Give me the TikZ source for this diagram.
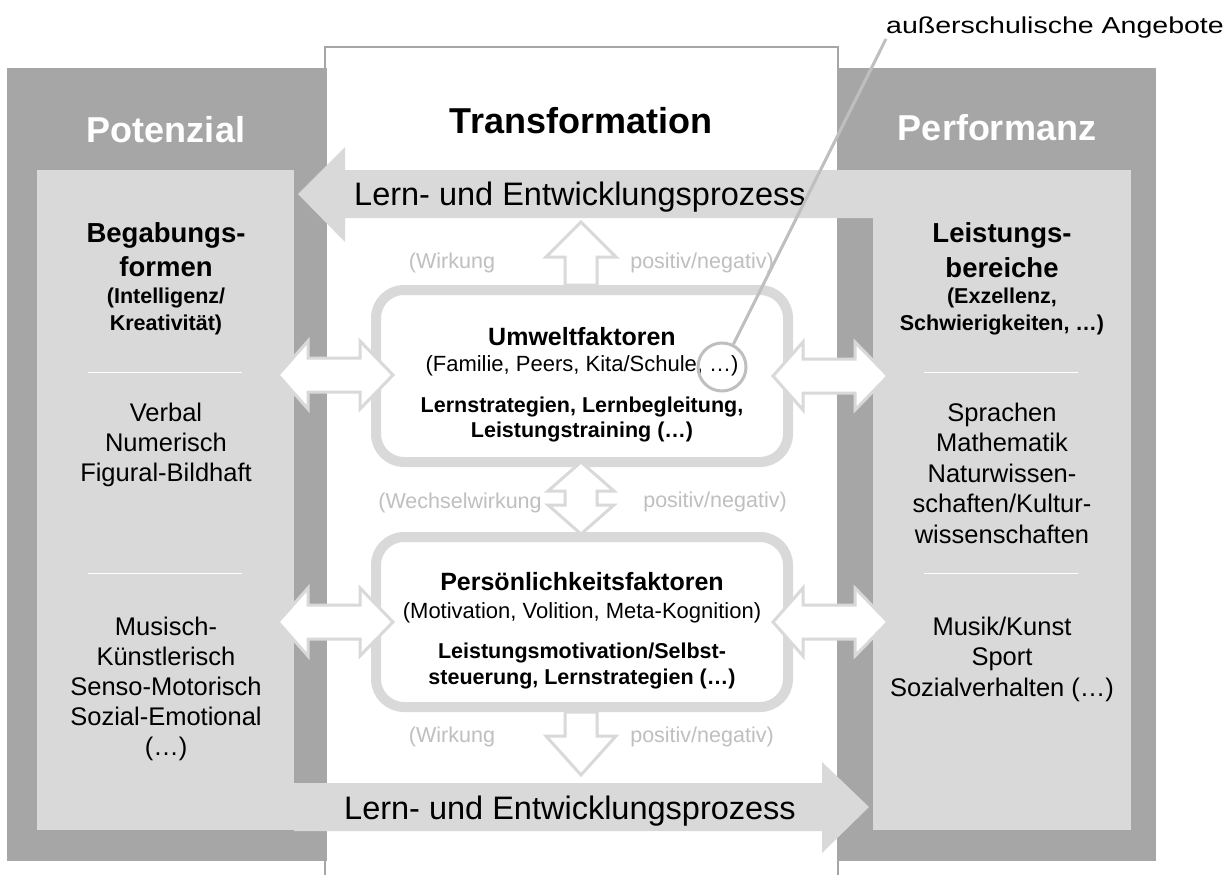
\documentclass[tikz,border=0pt]{standalone}
\usepackage{fontspec}
\setmainfont{Liberation Sans}
\newfontfamily\stretchedfont[FakeStretch=1.24]{Liberation Sans}
\definecolor{framegray}{HTML}{A6A6A6}
\definecolor{panelgray}{HTML}{D9D9D9}
\definecolor{notegray}{HTML}{BFBFBF}

\begin{document}
\begin{tikzpicture}[x=1pt, y=-1pt,
        txt/.style={inner sep=0pt, anchor=base},
        headtxt/.style={txt, font=\bfseries\fontsize{36}{40}\selectfont},
        subtxt/.style={txt, font=\bfseries\fontsize{27.5}{30}\selectfont},
        smalltxt/.style={txt, font=\bfseries\fontsize{21.5}{24}\selectfont},
        itemtxt/.style={txt, font=\fontsize{25.5}{28}\selectfont},
        titletxt/.style={txt, font=\bfseries\fontsize{25}{28}\selectfont},
        plaintxt/.style={txt, font=\fontsize{22}{24}\selectfont},
        effecttxt/.style={txt, text=notegray, font=\fontsize{21.5}{24}\selectfont},
        hollow/.style={draw=panelgray, line width=3pt, fill=white},
        factor/.style={draw=panelgray, line width=10pt, fill=white, rounded corners=28pt, minimum width=412pt}]
        \useasboundingbox (0,0) rectangle (1232,875);

        % frames
        \draw[framegray, line width=2pt, fill=white] (325,880) -- (325,47) -- (838,47) -- (838,880);
        \fill[framegray] (7,68) rectangle (327,861);
        \fill[framegray] (837,68) rectangle (1156,861);
        \fill[panelgray] (37,170) rectangle (294,830);
        \fill[panelgray] (873,170) rectangle (1131,830);

        % process arrows
        \fill[panelgray] (873,170) -- (345,170) -- (345,147) -- (298,194) -- (345,242) -- (345,218) -- (873,218) -- cycle;
        \fill[panelgray] (294,783) -- (822,783) -- (822,762) -- (869,807) -- (822,853) -- (822,831) -- (294,831) -- cycle;

        \node (umwelt) at (582,376) [factor, minimum height=172pt] {};
        \node (person) at (582,622) [factor, minimum height=170pt] {};

        \foreach \x/\y in {278/375, 278/622, 773/376, 773/622}
                \draw[hollow, shift={(\x,\y)}] (0,0) -- (30,-34) -- (30,-17) -- (82,-17) -- (82,-34) -- (115,0)
                        -- (82,34) -- (82,17) -- (30,17) -- (30,34) -- cycle;
        \draw[hollow] (581,222) -- (616,257) -- (597,257) -- (597,285) -- (565,285) -- (565,257) -- (546,257) -- cycle;
        \draw[hollow] (581,462) -- (614,491) -- (597,491) -- (597,505) -- (614,505) -- (581,534)
                -- (548,505) -- (565,505) -- (565,491) -- (548,491) -- cycle;
        \draw[hollow] (565,712) -- (597,712) -- (597,736) -- (616,736) -- (581,775) -- (546,736) -- (565,736) -- cycle;

        \foreach \y in {372,573} {
                \draw[white, line width=1pt] (88,\y) -- (242,\y);
                \draw[white, line width=1pt] (924,\y) -- (1078,\y);
        }

        \node (pot) at (166,142) [headtxt, text=white] {Potenzial};
        \node (trans) at (581,133) [headtxt] {Transformation};
        \node (perf) at (997,140) [headtxt, text=white] {Performanz};
        \node (proc1) at (580,205) [txt, font=\fontsize{32.5}{36}\selectfont] {Lern- und Entwicklungsprozess};
        \node (proc2) at (570,819) [txt, font=\fontsize{32.5}{36}\selectfont] {Lern- und Entwicklungsprozess};

        % Potenzial
        \node (bega1) at (166,242) [subtxt] {Begabungs-};
        \node (bega2) at (166,276) [subtxt] {formen};
        \node (bega3) at (166,303) [smalltxt] {(Intelligenz/};
        \node (bega4) at (166,330) [smalltxt] {Kreativität)};
        \foreach \y/\t [count=\i] in {421/Verbal, 451/Numerisch, 481/Figural-Bildhaft, 635/Musisch-,
                        665/Künstlerisch, 695/Senso-Motorisch, 725/Sozial-Emotional, 755/(…)}
                \node (form\i) at (166,\y) [itemtxt] {\t};

        % Performanz
        \node (leist1) at (1002,242) [subtxt] {Leistungs-};
        \node (leist2) at (1002,277) [subtxt] {bereiche};
        \node (leist3) at (1002,303) [smalltxt] {(Exzellenz,};
        \node (leist4) at (1002,330) [smalltxt] {Schwierigkeiten, …)};
        \foreach \y/\t [count=\i] in {421/Sprachen, 451/Mathematik, 482/Naturwissen-, 512/{schaften/Kultur-},
                        543/wissenschaften, 635/{Musik/Kunst}, 665/Sport, 696/Sozialverhalten (…)}
                \node (bereich\i) at (1002,\y) [itemtxt] {\t};

        % Transformation
        \node (um1) at (582,345) [titletxt] {Umweltfaktoren};
        \node (um2) at (582,371) [plaintxt] {(Familie, Peers, Kita/Schule, …)};
        \node (um3) at (582,412) [smalltxt] {Lernstrategien, Lernbegleitung,};
        \node (um4) at (582,437) [smalltxt] {Leistungstraining (…)};
        \node (pe1) at (582,590) [titletxt] {Persönlichkeitsfaktoren};
        \node (pe2) at (582,618) [plaintxt] {(Motivation, Volition, Meta-Kognition)};
        \node (pe3) at (582,658) [smalltxt] {Leistungsmotivation/Selbst-};
        \node (pe4) at (582,684) [smalltxt] {steuerung, Lernstrategien (…)};

        \node (wirk1) at (452,268) [effecttxt] {(Wirkung};
        \node (pn1) at (702,268) [effecttxt] {positiv/negativ)};
        \node (wirk2) at (460,508) [effecttxt] {(Wechselwirkung};
        \node (pn2) at (715,507) [effecttxt] {positiv/negativ)};
        \node (wirk3) at (452,742) [effecttxt] {(Wirkung};
        \node (pn3) at (702,742) [effecttxt] {positiv/negativ)};

        \node (ring) at (722,367) [circle, draw=notegray, line width=3pt, minimum size=48pt, inner sep=0pt] {};
        \node (angebote) at (1055,34) [txt, font=\stretchedfont\fontsize{23}{26}\selectfont] {außerschulische Angebote};
        \draw[notegray, line width=3pt] (angebote.south west) -- (ring);
\end{tikzpicture}
\end{document}
